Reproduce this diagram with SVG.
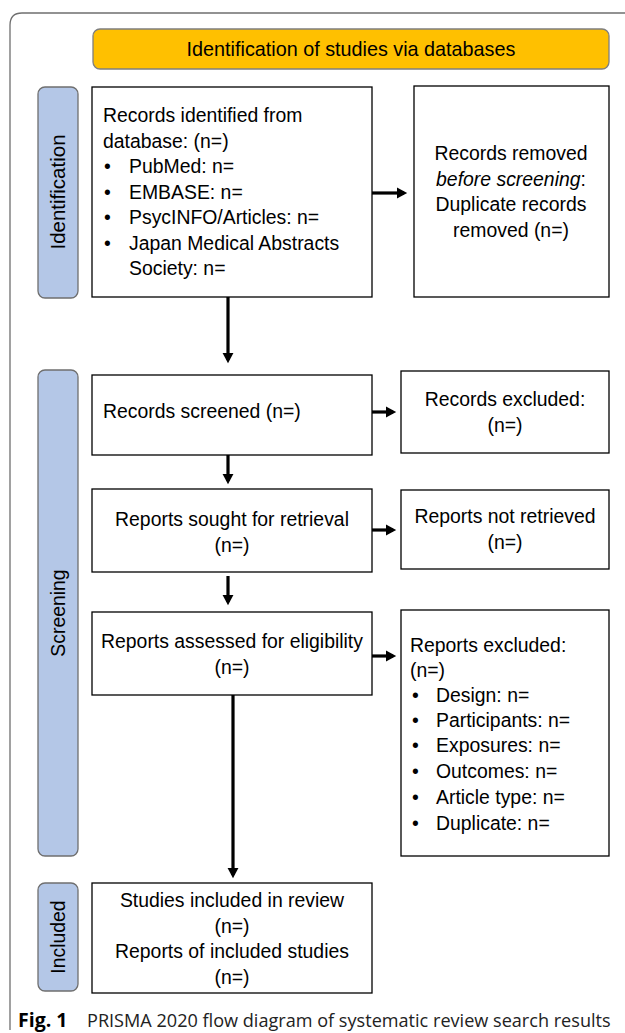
<svg xmlns="http://www.w3.org/2000/svg" width="625" height="1033" viewBox="0 0 625 1033">
<style>
.box{fill:#fff;stroke:#000;stroke-width:1.3}
.side{fill:#B4C7E7;stroke:#6f6f6f;stroke-width:1.3}
.t{font-family:"Liberation Sans",Arial,sans-serif;font-size:19.4px;fill:#000}
.c{text-anchor:middle}
.conn{stroke:#000;stroke-width:3.2;fill:none}
.cap{font-family:"Open Sans",sans-serif;font-size:18.1px;fill:#222}
</style>
<defs>
<marker id="ah" markerWidth="4" markerHeight="4" refX="2.2" refY="2" orient="auto" markerUnits="strokeWidth">
<path d="M0,0.3 L3.2,2 L0,3.7 Z" fill="#000"/>
</marker>
</defs>
<path d="M10,1030 L10,25 Q10,13 22,13 L625,13" fill="none" stroke="#6f6f6f" stroke-width="1.3"/>
<g id="banner">
<rect x="93" y="29" width="516" height="40" rx="7" fill="#FFC000" stroke="#7f7f7f" stroke-width="1.3"/>
<text class="t c" x="351" y="56" style="font-size:19.8px">Identification of studies via databases</text>
</g>
<g id="lbl-identification">
<rect class="side" x="38" y="87" width="40" height="211" rx="7"/>
<text class="t c" transform="translate(65,192) rotate(-90)" style="font-size:20.5px">Identification</text>
</g>
<g id="lbl-screening">
<rect class="side" x="38" y="370" width="40" height="486" rx="7"/>
<text class="t c" transform="translate(65,613) rotate(-90)">Screening</text>
</g>
<g id="lbl-included">
<rect class="side" x="38" y="883" width="40" height="108" rx="7"/>
<text class="t c" transform="translate(65,937) rotate(-90)">Included</text>
</g>
<g id="n-identified">
<rect class="box" x="92" y="87" width="280" height="210"/>
<text class="t" x="103" y="122">Records identified from</text>
<text class="t" x="103" y="148">database: (n=)</text>
<text class="t" x="104" y="173">•</text><text class="t" x="129" y="173">PubMed: n=</text>
<text class="t" x="104" y="199">•</text><text class="t" x="129" y="199">EMBASE: n=</text>
<text class="t" x="104" y="224">•</text><text class="t" x="129" y="224">PsycINFO/Articles: n=</text>
<text class="t" x="104" y="250">•</text><text class="t" x="129" y="250">Japan Medical Abstracts</text>
<text class="t" x="129" y="275">Society: n=</text>
</g>
<g id="n-removed">
<rect class="box" x="414" y="86" width="195" height="211"/>
<text class="t c" x="511" y="160">Records removed</text>
<text class="t c" x="511" y="186"><tspan font-style="italic">before screening</tspan>:</text>
<text class="t c" x="511" y="211">Duplicate records</text>
<text class="t c" x="511" y="237">removed (n=)</text>
</g>
<g id="n-screened">
<rect class="box" x="92" y="375" width="280" height="80"/>
<text class="t" x="103" y="418">Records screened (n=)</text>
</g>
<g id="n-excluded">
<rect class="box" x="401" y="371" width="208" height="82"/>
<text class="t c" x="505" y="406">Records excluded:</text>
<text class="t c" x="505" y="432">(n=)</text>
</g>
<g id="n-sought">
<rect class="box" x="92" y="489" width="280" height="83"/>
<text class="t c" x="232" y="526">Reports sought for retrieval</text>
<text class="t c" x="232" y="552">(n=)</text>
</g>
<g id="n-notretrieved">
<rect class="box" x="401" y="490" width="208" height="79"/>
<text class="t c" x="505" y="523">Reports not retrieved</text>
<text class="t c" x="505" y="549">(n=)</text>
</g>
<g id="n-assessed">
<rect class="box" x="92" y="612" width="280" height="83"/>
<text class="t c" x="232" y="648">Reports assessed for eligibility</text>
<text class="t c" x="232" y="674">(n=)</text>
</g>
<g id="n-reportsexcluded">
<rect class="box" x="401" y="610" width="208" height="246"/>
<text class="t" x="410" y="652">Reports excluded:</text>
<text class="t" x="410" y="677">(n=)</text>
<text class="t" x="412" y="702">•</text><text class="t" x="436" y="702">Design: n=</text>
<text class="t" x="412" y="727">•</text><text class="t" x="436" y="727">Participants: n=</text>
<text class="t" x="412" y="752">•</text><text class="t" x="436" y="752">Exposures: n=</text>
<text class="t" x="412" y="778">•</text><text class="t" x="436" y="778">Outcomes: n=</text>
<text class="t" x="412" y="804">•</text><text class="t" x="436" y="804">Article type: n=</text>
<text class="t" x="412" y="830">•</text><text class="t" x="436" y="830">Duplicate: n=</text>
</g>
<g id="n-included">
<rect class="box" x="92" y="883" width="280" height="110"/>
<text class="t c" x="232" y="907">Studies included in review</text>
<text class="t c" x="232" y="933">(n=)</text>
<text class="t c" x="232" y="958">Reports of included studies</text>
<text class="t c" x="232" y="984">(n=)</text>
</g>
<g id="connectors">
<line class="conn" x1="372" y1="193" x2="404" y2="193" marker-end="url(#ah)"/>
<line class="conn" x1="228" y1="297" x2="228" y2="360" marker-end="url(#ah)"/>
<line class="conn" x1="372" y1="412" x2="393" y2="412" marker-end="url(#ah)"/>
<line class="conn" x1="228" y1="455" x2="228" y2="481" marker-end="url(#ah)"/>
<line class="conn" x1="372" y1="530" x2="393" y2="530" marker-end="url(#ah)"/>
<line class="conn" x1="228" y1="576" x2="228" y2="602" marker-end="url(#ah)"/>
<line class="conn" x1="372" y1="656" x2="393" y2="656" marker-end="url(#ah)"/>
<line class="conn" x1="233" y1="695" x2="233" y2="875" marker-end="url(#ah)"/>
</g>
<g id="caption">
<text class="cap" x="18" y="1027"><tspan font-weight="bold" font-size="19.5" fill="#000">Fig. 1</tspan><tspan x="87">PRISMA 2020 flow diagram of systematic review search results</tspan></text>
</g>
</svg>
